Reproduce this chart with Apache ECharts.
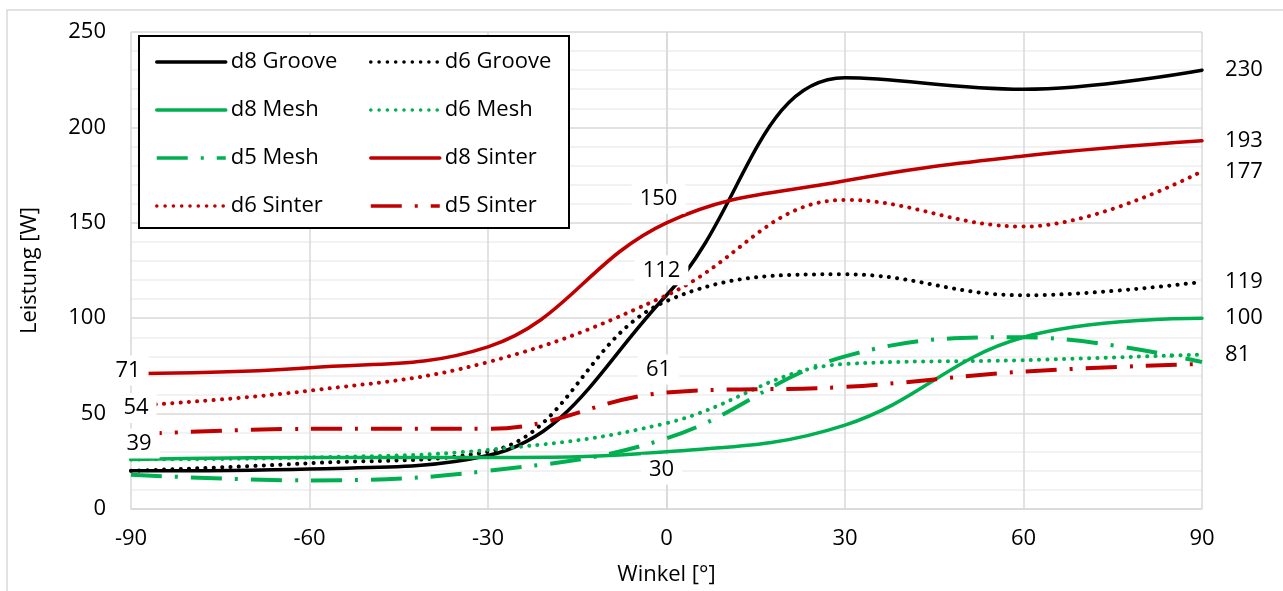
<!DOCTYPE html>
<html>
<head>
<meta charset="utf-8">
<script src="https://cdn.jsdelivr.net/npm/echarts@6/dist/echarts.min.js"></script>
<style>
  html, body { margin: 0; padding: 0; background: #fff; }
  #main { width: 1283px; height: 591px; }
</style>
</head>
<body>
<div id="main"></div>
<script>
// Winkel in Grad (x), Leistung in W (y)
var winkel = [-90, -60, -30, 0, 30, 60, 90]

var d8Groove = [20, 21, 28, 112, 226, 220, 230]
var d6Groove = [20, 24, 30, 109, 123, 112, 119]
var d8Mesh = [26, 27, 27, 30, 44, 90, 100]
var d6Mesh = [26, 27, 31, 45, 76, 78, 81]
var d5Mesh = [18, 15, 20, 37, 80, 90, 77]
var d8Sinter = [71, 74, 85, 150, 172, 185, 193]
var d6Sinter = [54, 62, 77, 112, 162, 148, 177]
var d5Sinter = [39, 42, 42, 61, 64, 72, 76]

var BLACK = '#000000'
var GREEN = '#00b050'
var RED = '#c00000'
var FONT = '"Open Sans", "Noto Sans", sans-serif'

// Linienarten
var solid = { type: 'solid', width: 3.5, cap: 'round' }
var dotted = { type: [0.1, 8.2], width: 4, cap: 'round' }
var dashDot = { type: [31, 13, 3, 13], width: 4, cap: 'butt' }

// welche Punkte beschriftet werden: [index, position, offset]
var labelPos = {
  'd8 Groove': [[3, 'inside', [-5, -25]], [6, 'right']],
  'd6 Groove': [[6, 'right']],
  'd8 Mesh': [[3, 'inside', [-5, 18]], [6, 'right']],
  'd6 Mesh': [[6, 'right']],
  'd8 Sinter': [[0, 'inside', [-3, -3]], [3, 'inside', [-8, -24]], [6, 'right']],
  'd6 Sinter': [[0, 'inside', [5, 2]], [6, 'right']],
  'd5 Sinter': [[0, 'inside', [8, 9]], [3, 'inside', [-8, -23]]]
}

function makeSeries(name, values, color, style) {
  var marks = labelPos[name] || []
  var data = values.map(function (v, i) {
    var item = { value: [winkel[i], v] }
    marks.forEach(function (m) {
      if (m[0] === i) {
        item.symbol = 'circle'
        item.symbolSize = 0.1
        item.label = {
          show: true,
          position: m[1],
          offset: m[2] || [0, 0],
          distance: 15,
          formatter: String(v),
          fontSize: 22,
          fontFamily: FONT,
          color: '#000',
          backgroundColor: '#fff',
          padding: [4, 8]
        }
      }
    })
    return item
  })
  return {
    name: name,
    type: 'line',
    smooth: 0.4,
    symbol: 'none',
    color: color,
    lineStyle: Object.assign({ color: color }, style),
    data: data
  }
}

var myChart = echarts.init(document.getElementById('main'))

var legendBase = {
  orient: 'vertical', top: 50, z: 5, padding: 0,
  itemWidth: 69, itemHeight: 14, itemGap: 24,
  selectedMode: false,
  itemStyle: { opacity: 0 },
  lineStyle: { width: 3.5 },
  textStyle: { fontSize: 22, fontFamily: FONT, color: '#000', lineHeight: 24 }
}

var option = {
  animation: false,
  backgroundColor: '#fff',
  grid: { left: 131, right: 81, top: 32, bottom: 80 },
  graphic: [
    {
      // äußerer Rahmen
      type: 'rect', z: 0, silent: true,
      shape: { x: 7, y: 10, width: 1400, height: 700 },
      style: { fill: 'none', stroke: '#d9d9d9', lineWidth: 1.5 }
    },
    {
      // Legendenkasten
      type: 'rect', z: 3, silent: true,
      shape: { x: 139, y: 36, width: 430, height: 192 },
      style: { fill: '#fff', stroke: '#000', lineWidth: 2 }
    }
  ],
  legend: [
    Object.assign({}, legendBase, {
      left: 155,
      data: ['d8 Groove', 'd8 Mesh', 'd5 Mesh', 'd6 Sinter']
    }),
    Object.assign({}, legendBase, {
      left: 369,
      data: ['d6 Groove', 'd6 Mesh', 'd8 Sinter', 'd5 Sinter']
    })
  ],
  xAxis: {
    type: 'value',
    min: -90,
    max: 90,
    interval: 30,
    name: 'Winkel [°]',
    nameLocation: 'middle',
    nameGap: 55,
    nameTextStyle: { fontSize: 22, fontFamily: FONT, color: '#000' },
    axisLine: { lineStyle: { color: '#d9d9d9', width: 1.5 } },
    axisTick: { show: false },
    axisLabel: { fontSize: 22, fontFamily: FONT, color: '#000', margin: 19 },
    splitLine: { show: true, lineStyle: { color: '#d9d9d9', width: 1.5 } }
  },
  yAxis: {
    type: 'value',
    min: 0,
    max: 250,
    interval: 50,
    name: 'Leistung [W]',
    nameLocation: 'middle',
    nameGap: 90,
    nameTextStyle: { fontSize: 22, fontFamily: FONT, color: '#000' },
    axisLine: { show: true, lineStyle: { color: '#d9d9d9', width: 1.5 } },
    axisTick: { show: false },
    axisLabel: { fontSize: 22, fontFamily: FONT, color: '#000', margin: 25 },
    splitLine: { lineStyle: { color: '#d9d9d9', width: 1.5 } },
    minorTick: { show: false, splitNumber: 5 },
    minorSplitLine: { show: true, lineStyle: { color: '#eeeeee', width: 1.5 } }
  },
  series: [
    makeSeries('d8 Groove', d8Groove, BLACK, solid),
    makeSeries('d6 Groove', d6Groove, BLACK, dotted),
    makeSeries('d8 Mesh', d8Mesh, GREEN, solid),
    makeSeries('d6 Mesh', d6Mesh, GREEN, dotted),
    makeSeries('d5 Mesh', d5Mesh, GREEN, dashDot),
    makeSeries('d8 Sinter', d8Sinter, RED, solid),
    makeSeries('d6 Sinter', d6Sinter, RED, dotted),
    makeSeries('d5 Sinter', d5Sinter, RED, dashDot)
  ]
}

myChart.setOption(option)
</script>
</body>
</html>
